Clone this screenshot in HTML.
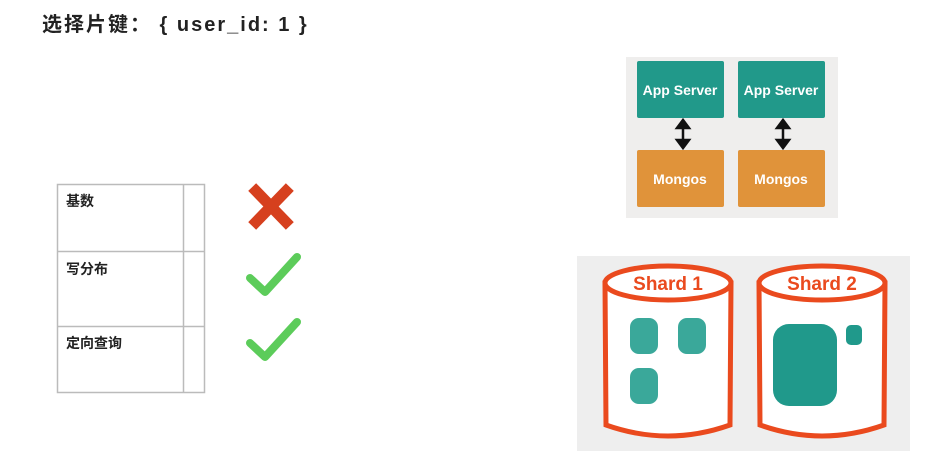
<!DOCTYPE html>
<html><head><meta charset="utf-8"><style>
body{margin:0;width:929px;height:458px;background:#fff;overflow:hidden;position:relative;font-family:"Liberation Sans","Noto Sans CJK SC",sans-serif}
.t{position:absolute;font-weight:bold;color:#222}
</style></head><body>
<div class="t" style="left:42px;top:8px;font-size:20px;letter-spacing:2px;">选择片键： { user_id: 1 }</div>
<svg width="929" height="458" style="position:absolute;left:0;top:0">
<g stroke="#bbb" stroke-width="1.5" fill="none">
<rect x="57.5" y="184.5" width="147" height="208"/>
<line x1="183.5" y1="184" x2="183.5" y2="393"/>
<line x1="57" y1="251.5" x2="205" y2="251.5"/>
<line x1="57" y1="326.5" x2="205" y2="326.5"/>
</g>
<text x="66" y="206" font-size="14" font-weight="bold" fill="#222" font-family="Liberation Sans,Noto Sans CJK SC,sans-serif">基数</text>
<text x="66" y="274" font-size="14" font-weight="bold" fill="#222" font-family="Liberation Sans,Noto Sans CJK SC,sans-serif">写分布</text>
<text x="66" y="348" font-size="14" font-weight="bold" fill="#222" font-family="Liberation Sans,Noto Sans CJK SC,sans-serif">定向查询</text>
<g stroke="#d6401e" stroke-width="11" stroke-linecap="square">
<line x1="256" y1="191" x2="286" y2="222"/><line x1="286" y1="191" x2="256" y2="222"/>
</g>
<g stroke="#5ccc5a" stroke-width="8" fill="none" stroke-linejoin="round" stroke-linecap="round">
<polyline points="250,278 265,292 297,257"/>
<polyline points="250,343 265,357 297,322"/>
</g>
<rect x="626" y="57" width="212" height="161" fill="#efeeed"/>
<g font-family="Liberation Sans,sans-serif" font-weight="bold" font-size="14" fill="#fff" text-anchor="middle">
<rect x="637" y="61" width="87" height="57" rx="2" fill="#21998a"/>
<rect x="738" y="61" width="87" height="57" rx="2" fill="#21998a"/>
<rect x="637" y="150" width="87" height="57" rx="2" fill="#e0933a"/>
<rect x="738" y="150" width="87" height="57" rx="2" fill="#e0933a"/>
<text x="680" y="95">App Server</text><text x="781" y="95">App Server</text>
<text x="680" y="184">Mongos</text><text x="781" y="184">Mongos</text>
</g>
<g fill="#111" stroke="#111" stroke-width="2.5">
<line x1="683" y1="126" x2="683" y2="142"/><polygon points="677,128 689,128 683,120"/><polygon points="677,140 689,140 683,148"/>
<line x1="783" y1="126" x2="783" y2="142"/><polygon points="777,128 789,128 783,120"/><polygon points="777,140 789,140 783,148"/>
</g>
<rect x="577" y="256" width="333" height="195" fill="#eeeeee"/>
<g stroke="#ea4a1e" stroke-width="5" fill="#fff">
<path d="M605,283 L606,425 Q668,447 730,425 L731,283 Z"/>
<ellipse cx="668" cy="283" rx="63" ry="17"/>
<path d="M759,283 L760,425 Q822,447 884,425 L885,283 Z"/>
<ellipse cx="822" cy="283" rx="63" ry="17"/>
</g>
<g font-family="Liberation Sans,sans-serif" font-weight="bold" font-size="19" fill="#ea4a1e" text-anchor="middle">
<text x="668" y="290">Shard 1</text><text x="822" y="290">Shard 2</text>
</g>
<g fill="#3aa89a">
<rect x="630" y="318" width="28" height="36" rx="9"/>
<rect x="678" y="318" width="28" height="36" rx="9"/>
<rect x="630" y="368" width="28" height="36" rx="9"/>
</g>
<g fill="#20998b">
<rect x="773" y="324" width="64" height="82" rx="16"/>
<rect x="846" y="325" width="16" height="20" rx="5"/>
</g>
</svg>
</body></html>
